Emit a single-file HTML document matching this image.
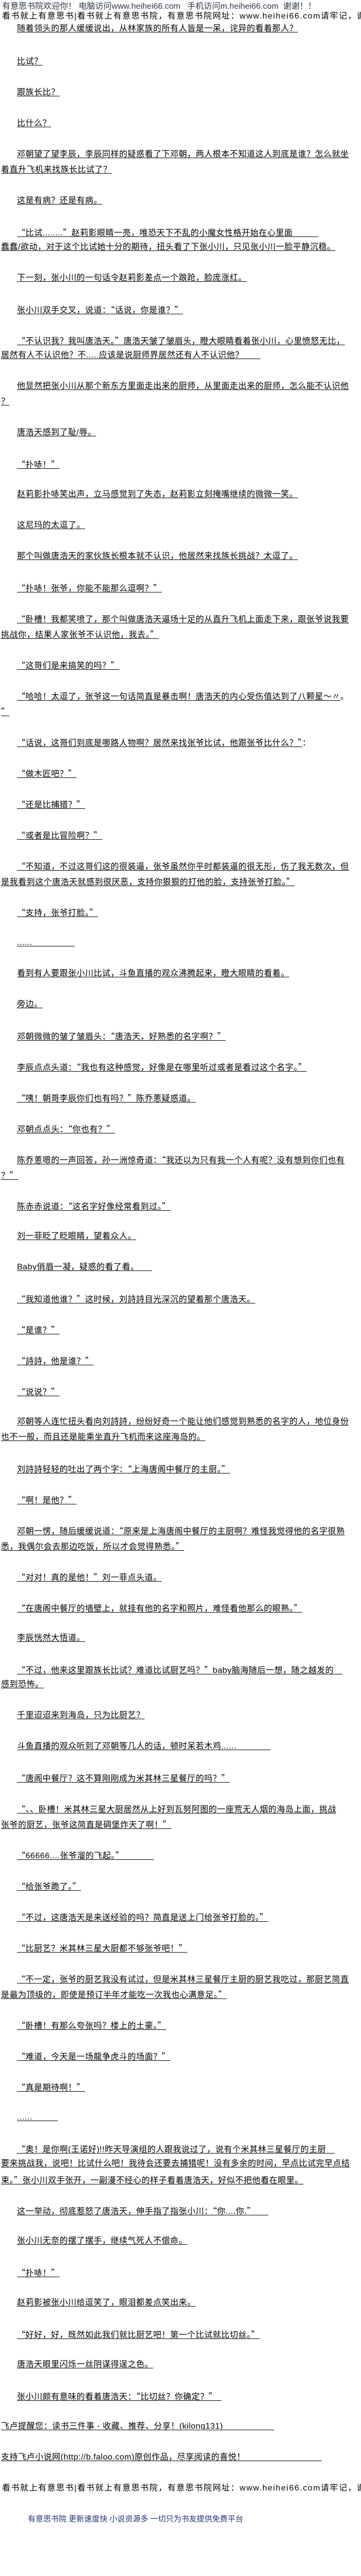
<!DOCTYPE html>
<html>
<head>
<meta charset="utf-8">
<style>
html,body{margin:0;padding:0;background:#fff;overflow:hidden;width:700px;height:5037px;}
#pg{width:700px;height:5037px;position:relative;overflow:hidden;font-family:"Liberation Sans","Noto Sans CJK SC",sans-serif;}
.l{position:absolute;left:2px;right:0;height:30px;line-height:30px;font-size:16px;letter-spacing:0.5px;white-space:pre;color:#000;overflow:hidden;}
.i{left:33px;}
.l span{text-decoration:underline;text-decoration-thickness:1px;text-underline-offset:2px;}
b{font-weight:normal;font-family:"Noto Sans CJK SC",sans-serif;}
.h1{position:absolute;left:4px;top:3px;width:690px;height:20px;line-height:20px;font-size:16px;white-space:pre;color:#2f3646;overflow:hidden;}
.h2{position:absolute;left:4px;width:696px;height:20px;line-height:20px;font-size:16px;letter-spacing:1.5px;white-space:pre;color:#000;overflow:hidden;}
.ft{position:absolute;left:54px;top:4880px;width:600px;height:20px;line-height:20px;font-size:15px;white-space:pre;color:#22347a;overflow:hidden;}
</style>
</head>
<body>
<div id="pg">
<div class="h1">有意思书院欢迎你！ 电脑访问www.heihei66.com   手机访问m.heihei66.com  谢谢！！</div>
<div class="h2" style="top:22px">看书就上有意思书|看书就上有意思书院，有意思书院网址：www.heihei66.com请牢记，谢谢</div>

<div class="l i" style="top:41px"><span>随着领头的那人缓缓说出，从林家族的所有人皆是一呆，诧异的看着那人？</span></div>
<div class="l i" style="top:105px"><span>比试？</span></div>
<div class="l i" style="top:165px"><span>跟族长比？</span></div>
<div class="l i" style="top:225px"><span>比什么？</span></div>
<div class="l i" style="top:285px"><span>邓朝望了望李辰，李辰同样的疑惑看了下邓朝，两人根本不知道这人到底是谁？怎么就坐</span></div>
<div class="l" style="top:315px"><span>着直升飞机来找族长比试了？</span></div>
<div class="l i" style="top:375px"><span>这是有病？还是有病。</span></div>
<div class="l i" style="top:435px"><span><b>“</b>比试........<b>”</b>赵莉影眼睛一亮，唯恐天下不乱的小魔女性格开始在心里面　　　</span></div>
<div class="l" style="top:465px"><span>蠢蠢/欲动，对于这个比试她十分的期待，扭头看了下张小川，只见张小川一脸平静沉稳。</span></div>
<div class="l i" style="top:525px"><span>下一刻，张小川的一句话令赵莉影差点一个踉跄，脸庞涨红。</span></div>
<div class="l i" style="top:585px"><span>张小川双手交叉，说道：<b>“</b>话说，你是谁？<b>”</b></span></div>
<div class="l i" style="top:645px"><span><b>“</b>不认识我？我叫唐浩天。<b>”</b>唐浩天皱了皱眉头，瞪大眼睛看着张小川，心里愤怒无比，</span></div>
<div class="l" style="top:675px"><span>居然有人不认识他？不.....应该是说厨师界居然还有人不认识他？　　</span></div>
<div class="l i" style="top:735px"><span>他显然把张小川从那个新东方里面走出来的厨师，从里面走出来的厨师，怎么能不认识他</span></div>
<div class="l" style="top:765px"><span>？</span></div>
<div class="l i" style="top:825px"><span>唐浩天感到了耻/辱。</span></div>
<div class="l i" style="top:885px"><span><b>“</b>扑哧！<b>”</b></span></div>
<div class="l i" style="top:945px"><span>赵莉影扑哧笑出声，立马感觉到了失态，赵莉影立刻掩嘴继续的微微一笑。</span></div>
<div class="l i" style="top:1005px"><span>这尼玛的太逗了。</span></div>
<div class="l i" style="top:1065px"><span>那个叫做唐浩天的家伙族长根本就不认识，他居然来找族长挑战？太逗了。</span></div>
<div class="l i" style="top:1125px"><span><b>“</b>扑哧！张爷，你能不能那么逗啊？<b>”</b></span></div>
<div class="l i" style="top:1185px"><span><b>“</b>卧槽！我都笑喷了，那个叫做唐浩天逼场十足的从直升飞机上面走下来，跟张爷说我要</span></div>
<div class="l" style="top:1215px"><span>挑战你，结果人家张爷不认识他，我去。<b>”</b></span></div>
<div class="l i" style="top:1275px"><span><b>“</b>这哥们是来搞笑的吗？<b>”</b></span></div>
<div class="l i" style="top:1335px"><span><b>“</b>哈哈！太逗了，张爷这一句话简直是暴击啊！唐浩天的内心受伤值达到了八颗星～〃</span>。</div>
<div class="l" style="top:1365px"><span><b>”</b></span></div>
<div class="l i" style="top:1425px"><span><b>“</b>话说，这哥们到底是哪路人物啊？居然来找张爷比试，他跟张爷比什么？<b>”</b></span>：</div>
<div class="l i" style="top:1485px"><span><b>“</b>做木匠吧？<b>”</b></span></div>
<div class="l i" style="top:1545px"><span><b>“</b>还是比捕猎？<b>”</b></span></div>
<div class="l i" style="top:1605px"><span><b>“</b>或者是比冒险啊？<b>”</b></span></div>
<div class="l i" style="top:1665px"><span><b>“</b>不知道，不过这哥们这的很装逼，张爷虽然你平时都装逼的很无形，伤了我无数次，但</span></div>
<div class="l" style="top:1695px"><span>是我看到这个唐浩天就感到很厌恶，支持你狠狠的打他的脸，支持张爷打脸。<b>”</b></span></div>
<div class="l i" style="top:1755px"><span><b>“</b>支持，张爷打脸。<b>”</b></span></div>
<div class="l i" style="top:1815px"><span>......　　　　　</span></div>
<div class="l i" style="top:1875px"><span>看到有人要跟张小川比试，斗鱼直播的观众沸腾起来，瞪大眼睛的看着。</span></div>
<div class="l i" style="top:1935px"><span>旁边。</span></div>
<div class="l i" style="top:1995px"><span>邓朝微微的皱了皱眉头：<b>“</b>唐浩天，好熟悉的名字啊？<b>”</b></span></div>
<div class="l i" style="top:2055px"><span>李辰点点头道：<b>“</b>我也有这种感觉，好像是在哪里听过或者是看过这个名字。<b>”</b></span></div>
<div class="l i" style="top:2115px"><span><b>“</b>咦！朝哥李辰你们也有吗？<b>”</b>陈乔蔥疑惑道。</span></div>
<div class="l i" style="top:2175px"><span>邓朝点点头：<b>“</b>你也有？<b>”</b></span></div>
<div class="l i" style="top:2235px"><span>陈乔蔥嗯的一声回答，孙一洲惊奇道：<b>“</b>我还以为只有我一个人有呢？没有想到你们也有</span></div>
<div class="l" style="top:2265px"><span>？<b>”</b></span></div>
<div class="l i" style="top:2325px"><span>陈赤赤说道：<b>“</b>这名字好像经常看到过。<b>”</b></span></div>
<div class="l i" style="top:2385px"><span>刘一菲眨了眨眼睛，望着众人。</span></div>
<div class="l i" style="top:2445px"><span>Baby俏眉一凝，疑惑的看了看。　　</span></div>
<div class="l i" style="top:2505px"><span><b>“</b>我知道他谁？<b>”</b>这时候，刘詩詩目光深沉的望着那个唐浩天。</span></div>
<div class="l i" style="top:2565px"><span><b>“</b>是谁？<b>”</b></span></div>
<div class="l i" style="top:2625px"><span><b>“</b>詩詩，他是谁？<b>”</b></span></div>
<div class="l i" style="top:2685px"><span><b>“</b>说说？<b>”</b></span></div>
<div class="l i" style="top:2745px"><span>邓朝等人连忙扭头看向刘詩詩，纷纷好奇一个能让他们感觉到熟悉的名字的人，地位身份</span></div>
<div class="l" style="top:2775px"><span>也不一般，而且还是能乘坐直升飞机而来这座海岛的。</span></div>
<div class="l i" style="top:2835px"><span>刘詩詩轻轻的吐出了两个字：<b>“</b>上海唐阁中餐厅的主厨。<b>”</b></span></div>
<div class="l i" style="top:2895px"><span><b>“</b>啊！是他？<b>”</b></span></div>
<div class="l i" style="top:2955px"><span>邓朝一愣，随后缓缓说道：<b>“</b>原来是上海唐阁中餐厅的主厨啊？难怪我觉得他的名字很熟</span></div>
<div class="l" style="top:2985px"><span>悉，我偶尔会去那边吃饭，所以才会觉得熟悉。<b>”</b></span></div>
<div class="l i" style="top:3045px"><span><b>“</b>对对！真的是他！<b>”</b>刘一菲点头道。</span></div>
<div class="l i" style="top:3105px"><span><b>“</b>在唐阁中餐厅的墙壁上，就挂有他的名字和照片，难怪看他那么的眼熟。<b>”</b></span></div>
<div class="l i" style="top:3165px"><span>李辰恍然大悟道。</span></div>
<div class="l i" style="top:3225px"><span><b>“</b>不过，他来这里跟族长比试？难道比试厨艺吗？<b>”</b>baby脑海随后一想，随之越发的　</span></div>
<div class="l" style="top:3255px"><span>感到恐怖。</span></div>
<div class="l i" style="top:3315px"><span>千里迢迢来到海岛，只为比厨艺？</span></div>
<div class="l i" style="top:3375px"><span>斗鱼直播的观众听到了邓朝等几人的话，顿时呆若木鸡......　　　　</span></div>
<div class="l i" style="top:3435px"><span><b>“</b>唐阁中餐厅？这不算刚刚成为米其林三星餐厅的吗？<b>”</b></span></div>
<div class="l i" style="top:3495px"><span><b>“</b>、、卧槽！米其林三星大厨居然从上好到瓦努阿图的一座荒无人烟的海岛上面，挑战</span></div>
<div class="l" style="top:3525px"><span>张爷的厨艺，张爷这简直是碉堡炸天了啊！<b>”</b></span></div>
<div class="l i" style="top:3585px"><span><b>“</b>66666....张爷溜的飞起。<b>”</b>　　　　</span></div>
<div class="l i" style="top:3645px"><span><b>“</b>给张爷跪了。<b>”</b></span></div>
<div class="l i" style="top:3705px"><span><b>“</b>不过，这唐浩天是来送经验的吗？简直是送上门给张爷打脸的。<b>”</b></span></div>
<div class="l i" style="top:3765px"><span><b>“</b>比厨艺？米其林三星大厨都不够张爷吧！<b>”</b></span></div>
<div class="l i" style="top:3825px"><span><b>“</b>不一定，张爷的厨艺我没有试过，但是米其林三星餐厅主厨的厨艺我吃过，那厨艺简直</span></div>
<div class="l" style="top:3855px"><span>是最为顶级的，即使是预订半年才能吃一次我也心满意足。<b>”</b></span></div>
<div class="l i" style="top:3915px"><span><b>“</b>卧槽！有那么夸张吗？楼上的土豪。<b>”</b></span></div>
<div class="l i" style="top:3975px"><span><b>“</b>难道，今天是一场龍争虎斗的场面？<b>”</b></span></div>
<div class="l i" style="top:4035px"><span><b>“</b>真是期待啊！<b>”</b></span></div>
<div class="l i" style="top:4095px"><span>......　　　</span></div>
<div class="l i" style="top:4155px"><span><b>“</b>奥！是你啊(王诺好)!!昨天导演组的人跟我说过了，说有个米其林三星餐厅的主厨　</span></div>
<div class="l" style="top:4185px"><span>要来挑战我，说吧！比试什么吧！我待会还要去捕猎呢！没有多余的时间，早点比试完早点结</span></div>
<div class="l" style="top:4215px"><span>束。<b>”</b>张小川双手张开，一副漫不经心的样子看着唐浩天，好似不把他看在眼里。</span></div>
<div class="l i" style="top:4275px"><span>这一举动，彻底惹怒了唐浩天，伸手指了指张小川：<b>“</b>你....你.<b>”</b>　　</span></div>
<div class="l i" style="top:4335px"><span>张小川无奈的摆了摆手，继续气死人不偿命。</span></div>
<div class="l i" style="top:4395px"><span><b>“</b>扑哧！<b>”</b></span></div>
<div class="l i" style="top:4455px"><span>赵莉影被张小川给逗笑了，眼泪都差点笑出来。</span></div>
<div class="l i" style="top:4515px"><span><b>“</b>好好，好，既然如此我们就比厨艺吧！第一个比试就比切丝。<b>”</b></span></div>
<div class="l i" style="top:4575px"><span>唐浩天眼里闪烁一丝阴谋得逞之色。</span></div>
<div class="l i" style="top:4635px"><span>张小川颇有意味的看着唐浩天：<b>“</b>比切丝？你确定？<b>”</b>　</span></div>
<div class="l" style="top:4695px"><span>飞卢提醒您：读书三件事 - 收藏、推荐、分享！(kilong131)　　　　　　</span></div>
<div class="l" style="top:4755px"><span>支持飞卢小说网(http://b.faloo.com)原创作品，尽享阅读的喜悦！　　　　　　　　　</span></div>
<div class="h2" style="top:4820px">看书就上有意思书|看书就上有意思书院，有意思书院网址：www.heihei66.com请牢记，谢谢</div>
<div class="ft">有意思书院 更新速度快 小说资源多 一切只为书友提供免费平台</div>
</div>
</body>
</html>
